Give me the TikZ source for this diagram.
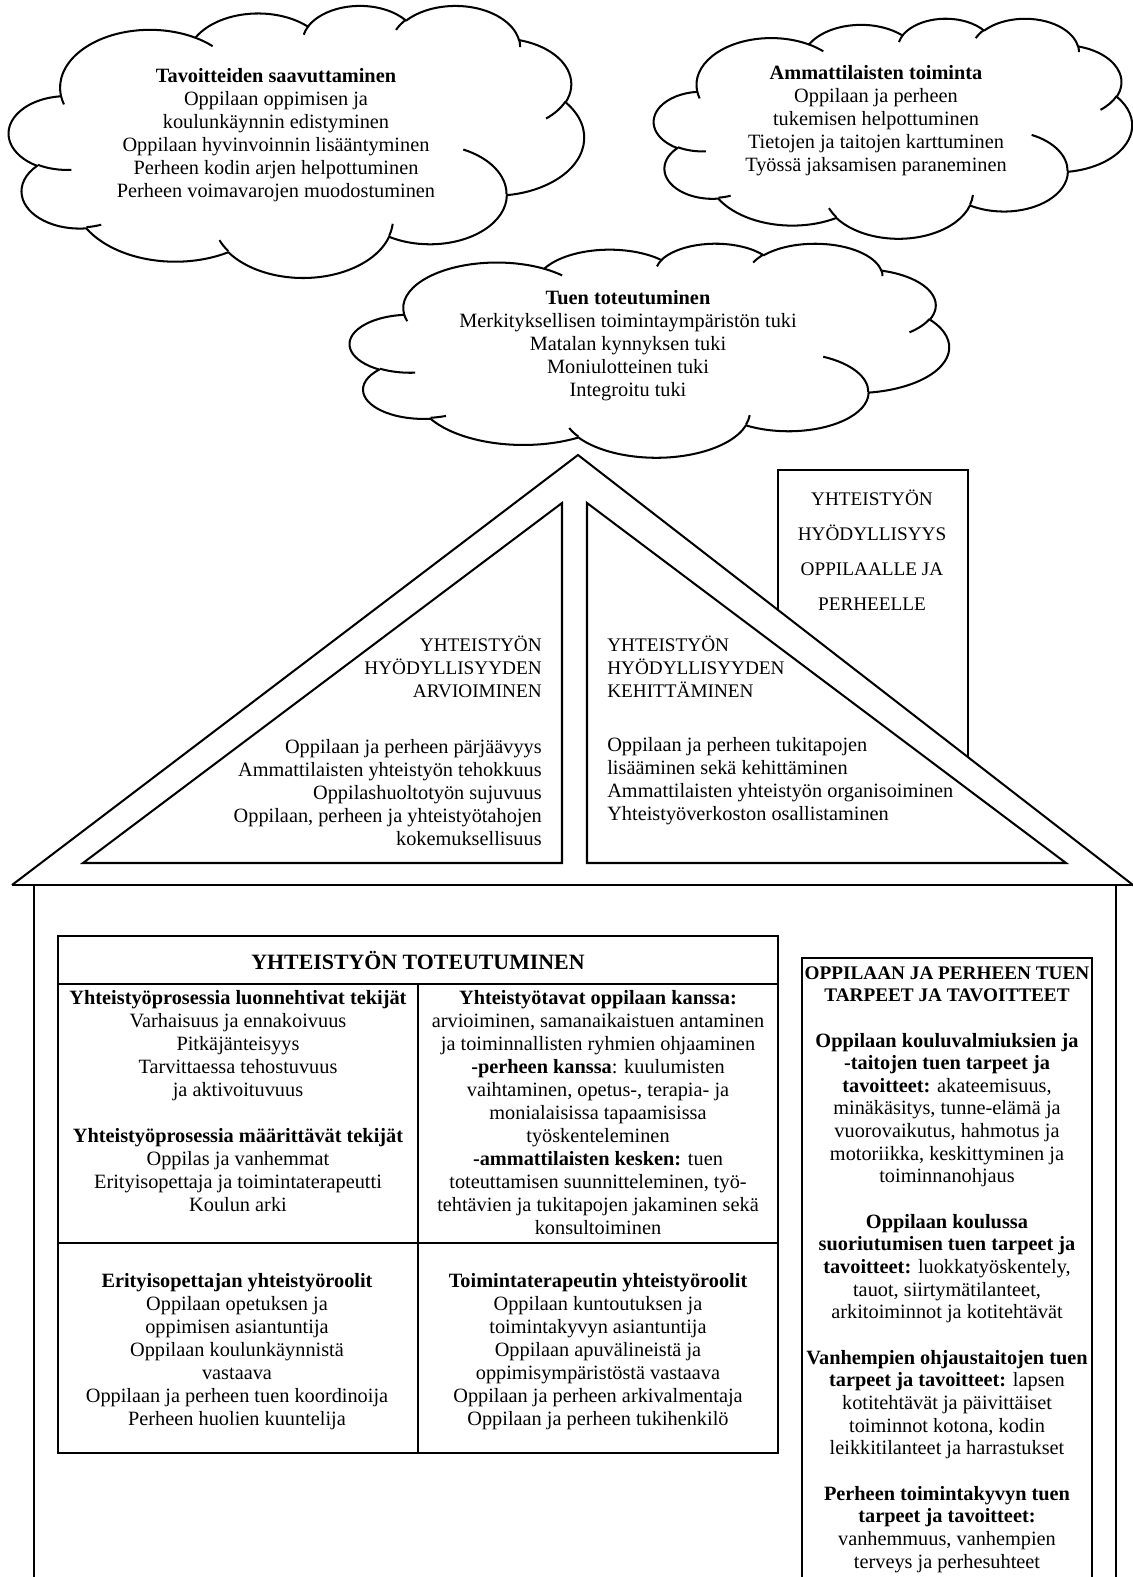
\documentclass[tikz,border=0pt]{standalone}
\usepackage{fontspec}
\setmainfont{Liberation Serif}

% visual (DrawingML) angle -> parametric angle, stored as \cldS<name>, \cldE<name>
\newcommand\cldprep[5]{%
  \pgfmathsetmacro\cldtmpS{atan2((#2)*sin(#4),(#3)*cos(#4))}%
  \pgfmathsetmacro\cldtmpE{atan2((#2)*sin((#4)+(#5)),(#3)*cos((#4)+(#5)))}%
  \pgfmathsetmacro\cldtmpD{mod(\cldtmpE-(\cldtmpS)+720,360)}%
  \pgfmathsetmacro\cldtmpF{\cldtmpS+\cldtmpD}%
  \expandafter\xdef\csname cldS#1\endcsname{\cldtmpS}%
  \expandafter\xdef\csname cldE#1\endcsname{\cldtmpF}%
}
\cldprep{a}{67.53}{91.90}{-190.4875}{123.7805}
\cldprep{b}{53.33}{72.67}{-144.1024}{89.9452}
\cldprep{c}{43.65}{59.45}{-145.8079}{99.7230}
\cldprep{d}{48.57}{65.95}{-130.9861}{117.2417}
\cldprep{e}{53.33}{72.73}{-78.7089}{109.0269}
\cldprep{f}{67.75}{92.20}{-46.2673}{130.2690}
\cldprep{g}{57.85}{78.67}{0.6250}{114.0333}
\cldprep{h}{67.52}{92.15}{22.4516}{115.1726}
\cldprep{i}{77.20}{105.43}{66.2426}{75.7110}
\cldprep{j}{43.60}{59.18}{-274.9421}{146.7356}
\cldprep{k}{43.45}{59.45}{-246.8285}{152.5189}
\cldprep{A}{43.45}{59.45}{86.7420}{26.4295}
\cldprep{B}{43.60}{59.18}{73.6105}{11.4475}
\cldprep{C}{67.52}{92.15}{137.6242}{14.0811}
\cldprep{D}{67.52}{92.15}{6.4533}{15.9984}
\cldprep{E}{57.85}{78.67}{-70.2924}{70.9174}
\cldprep{F}{53.33}{72.73}{30.3180}{27.7515}
\cldprep{G}{48.57}{65.95}{-13.7443}{14.8589}
\cldprep{H}{48.57}{65.95}{-149.1815}{18.1954}
\cldprep{I}{43.65}{59.45}{-163.4943}{17.6864}
\cldprep{J}{67.53}{91.90}{-66.7070}{12.3194}
\cldprep{K}{67.53}{91.90}{157.6544}{11.8582}

\newcommand\cldarc[3]{arc[start angle=\csname cldS#1\endcsname, end angle=\csname cldE#1\endcsname, x radius=#2, y radius=#3]}

\newcommand\drawcloud[4]{%
  \pgfmathsetmacro\cldsx{(#3)/432}%
  \pgfmathsetmacro\cldsy{(#4)/432}%
  \begin{scope}[shift={(#1,#2)}, xscale=\cldsx, yscale=\cldsy]
    \draw[cloudline] (39.00,143.70)
      \cldarc{a}{67.53}{91.90}
      \cldarc{b}{53.33}{72.67}
      \cldarc{c}{43.65}{59.45}
      \cldarc{d}{48.57}{65.95}
      \cldarc{e}{53.33}{72.73}
      \cldarc{f}{67.75}{92.20}
      \cldarc{g}{57.85}{78.67}
      \cldarc{h}{67.52}{92.15}
      \cldarc{i}{77.20}{105.43}
      \cldarc{j}{43.60}{59.18}
      \cldarc{k}{43.45}{59.45} -- cycle;
    \draw[cloudline] (46.93,261.77) \cldarc{A}{43.45}{59.45};
    \draw[cloudline] (69.28,348.99) \cldarc{B}{43.60}{59.18};
    \draw[cloudline] (164.78,390.90) \cldarc{C}{67.52}{92.15};
    \draw[cloudline] (288.27,347.51) \cldarc{D}{67.52}{92.15};
    \draw[cloudline] (341.29,229.54) \cldarc{E}{57.85}{78.67};
    \draw[cloudline] (417.98,153.54) \cldarc{F}{53.33}{72.73};
    \draw[cloudline] (383.24,54.26) \cldarc{G}{48.57}{65.95};
    \draw[cloudline] (290.78,39.52) \cldarc{H}{48.57}{65.95};
    \draw[cloudline] (221.41,47.20) \cldarc{I}{43.65}{59.45};
    \draw[cloudline] (140.00,51.92) \cldarc{J}{67.53}{91.90};
    \draw[cloudline] (41.27,157.89) \cldarc{K}{67.53}{91.90};
  \end{scope}}

\newcommand\capsz{\fontsize{12.3}{14.72}\selectfont}

\tikzset{
  cloudline/.style={line width=1.3pt, line join=round},
  roofline/.style={line width=1.3pt, line join=miter},
  heavyline/.style={line width=1.7pt},
  txt/.style={inner sep=0pt, font=\fontsize{13}{14.72}\selectfont},
  captxt/.style={inner sep=0pt, font=\capsz},
}

\begin{document}
\begin{tikzpicture}[x=0.64pt, y=-0.64pt]
\useasboundingbox (0,0) rectangle (1133,1577);
\clip (0,0) rectangle (1133,1577);

% ---------- clouds ----------
\drawcloud{9}{5}{575}{272}
\drawcloud{654}{18}{478}{220}
\drawcloud{350}{243}{599}{214}

\node[txt, align=center] (goals) at (276,135.5)
  {\textbf{Tavoitteiden saavuttaminen}\\Oppilaan oppimisen ja\\koulunkäynnin edistyminen\\Oppilaan hyvinvoinnin lisääntyminen\\Perheen kodin arjen helpottuminen\\Perheen voimavarojen muodostuminen};
\node[txt, align=center] (prof) at (876,121)
  {\textbf{Ammattilaisten toiminta}\\Oppilaan ja perheen\\tukemisen helpottuminen\\Tietojen ja taitojen karttuminen\\Työssä jaksamisen paraneminen};
\node[txt, align=center] (support) at (628,346)
  {\textbf{Tuen toteutuminen}\\Merkityksellisen toimintaympäristön tuki\\Matalan kynnyksen tuki\\Moniulotteinen tuki\\Integroitu tuki};

% ---------- roof ----------
\draw[roofline] (12,885) -- (578,455) -- (1140,890.4);
\draw[heavyline] (12,885) -- (1140,885);
\draw[roofline] (562,503) -- (83,863) -- (562,863) -- cycle;
\draw[roofline] (587,503) -- (587,863) -- (1066,863) -- cycle;
% chimney
\draw[roofline] (778,610) -- (778,470) -- (968,470) -- (968,757);

\node[captxt, align=right, anchor=east] (evalh) at (542,666.5)
  {YHTEISTYÖN\\HYÖDYLLISYYDEN\\ARVIOIMINEN};
\node[txt, align=right, anchor=east] (evali) at (542,792.5)
  {Oppilaan ja perheen pärjäävyys\\Ammattilaisten yhteistyön tehokkuus\\Oppilashuoltotyön sujuvuus\\Oppilaan, perheen ja yhteistyötahojen\\kokemuksellisuus};
\node[captxt, align=left, anchor=west] (devh) at (607,666.5)
  {YHTEISTYÖN\\HYÖDYLLISYYDEN\\KEHITTÄMINEN};
\node[txt, align=left, anchor=west] (devi) at (607,781)
  {Oppilaan ja perheen tukitapojen\\lisääminen sekä kehittäminen\\Ammattilaisten yhteistyön organisoiminen\\Yhteistyöverkoston osallistaminen};
\node[inner sep=0pt, align=center, font=\fontsize{12.3}{22.4}\selectfont] (benefit) at (872,550.5)
  {YHTEISTYÖN\\HYÖDYLLISYYS\\OPPILAALLE JA\\PERHEELLE};

% ---------- house walls ----------
\draw[heavyline] (34,885) -- (34,1600);
\draw[heavyline] (1116,885) -- (1116,1600);

% ---------- main table ----------
\draw[heavyline] (58,936) rectangle (778,1453);
\draw[heavyline] (58,984) -- (778,984);
\draw[heavyline] (418,984) -- (418,1453);
\draw[heavyline] (58,1243) -- (778,1243);

\node[inner sep=0pt, font=\fontsize{14}{17}\selectfont\bfseries] (title) at (418,960) {YHTEISTYÖN TOTEUTUMINEN};

\node[txt, align=center, anchor=north] (factors) at (238,990)
  {\textbf{Yhteistyöprosessia luonnehtivat tekijät}\\Varhaisuus ja ennakoivuus\\Pitkäjänteisyys\\Tarvittaessa tehostuvuus\\ja aktivoituvuus\\[14.72pt]\textbf{Yhteistyöprosessia määrittävät tekijät}\\Oppilas ja vanhemmat\\Erityisopettaja ja toimintaterapeutti\\Koulun arki};
\node[txt, align=center, anchor=north] (ways) at (598,990)
  {\textbf{Yhteistyötavat oppilaan kanssa:}\\arvioiminen, samanaikaistuen antaminen\\ja toiminnallisten ryhmien ohjaaminen\\\textbf{-perheen kanssa}: kuulumisten\\vaihtaminen, opetus-, terapia- ja\\monialaisissa tapaamisissa\\työskenteleminen\\\textbf{-ammattilaisten kesken:} tuen\\toteuttamisen suunnitteleminen, työ-\\tehtävien ja tukitapojen jakaminen sekä\\konsultoiminen};
\node[txt, align=center, anchor=north] (teacher) at (237,1273)
  {\textbf{Erityisopettajan yhteistyöroolit}\\Oppilaan opetuksen ja\\oppimisen asiantuntija\\Oppilaan koulunkäynnistä\\vastaava\\Oppilaan ja perheen tuen koordinoija\\Perheen huolien kuuntelija};
\node[txt, align=center, anchor=north] (therapist) at (598,1273)
  {\textbf{Toimintaterapeutin yhteistyöroolit}\\Oppilaan kuntoutuksen ja\\toimintakyvyn asiantuntija\\Oppilaan apuvälineistä ja\\oppimisympäristöstä vastaava\\Oppilaan ja perheen arkivalmentaja\\Oppilaan ja perheen tukihenkilö};

% ---------- right box ----------
\draw[roofline] (802,1600) -- (802,958) -- (1092,958) -- (1092,1600);
\node[inner sep=0pt, font=\fontsize{13}{14.5}\selectfont, align=center, anchor=north] (needs) at (947,966)
  {{\fontsize{12.3}{14.5}\selectfont\bfseries OPPILAAN JA PERHEEN TUEN}\\{\fontsize{12.3}{14.5}\selectfont\bfseries TARPEET JA TAVOITTEET}\\[14.5pt]%
   \textbf{Oppilaan kouluvalmiuksien ja}\\\textbf{-taitojen tuen tarpeet ja}\\\textbf{tavoitteet:} akateemisuus,\\minäkäsitys, tunne-elämä ja\\vuorovaikutus, hahmotus ja\\motoriikka, keskittyminen ja\\toiminnanohjaus\\[14.5pt]%
   \textbf{Oppilaan koulussa}\\\textbf{suoriutumisen tuen tarpeet ja}\\\textbf{tavoitteet:} luokkatyöskentely,\\tauot, siirtymätilanteet,\\arkitoiminnot ja kotitehtävät\\[14.5pt]%
   \textbf{Vanhempien ohjaustaitojen tuen}\\\textbf{tarpeet ja tavoitteet:} lapsen\\kotitehtävät ja päivittäiset\\toiminnot kotona, kodin\\leikkitilanteet ja harrastukset\\[14.5pt]%
   \textbf{Perheen toimintakyvyn tuen}\\\textbf{tarpeet ja tavoitteet:}\\vanhemmuus, vanhempien\\terveys ja perhesuhteet};
\end{tikzpicture}
\end{document}
